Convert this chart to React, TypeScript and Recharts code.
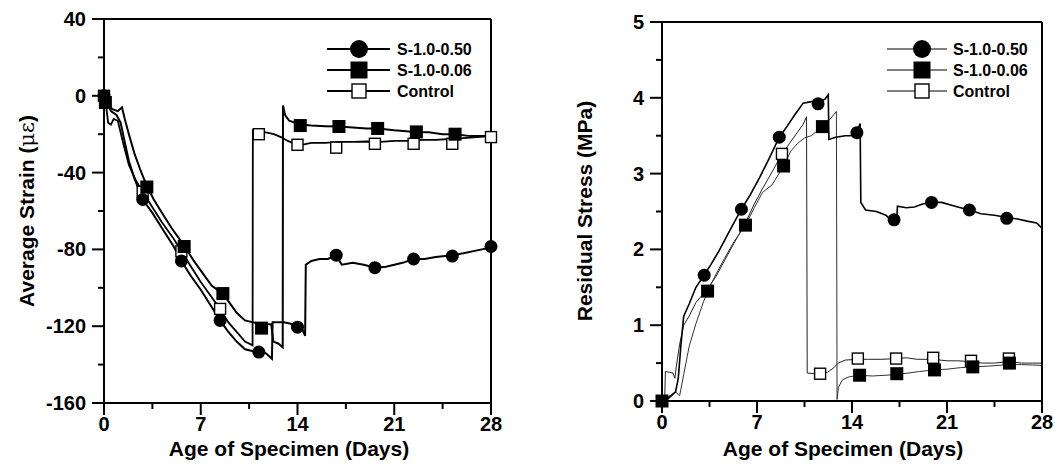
import React from 'react';
import { ComposedChart, Line, Scatter, XAxis, YAxis, Legend, Label } from 'recharts';

const FONT = 'Arial, "Liberation Sans", Helvetica, sans-serif';

// axis ticks
const dayTicks = [0, 3.5, 7, 10.5, 14, 17.5, 21, 24.5, 28];
const strainTicks = [-160, -140, -120, -100, -80, -60, -40, -20, 0, 20, 40];
const stressTicks = [0, 0.5, 1, 1.5, 2, 2.5, 3, 3.5, 4, 4.5, 5];

const seriesNames = ['S-1.0-0.50', 'S-1.0-0.06', 'Control'];

// ---- Average strain (με) vs. age [day, value] ----
const strainS050 = [
  [0, 0], [0.2, -3], [0.5, -8], [0.9, -10], [1.2, -14], [1.5, -24], [1.8, -34], [2.2, -43], [2.8, -54],
  [3.5, -61], [4.2, -69], [5, -78], [5.6, -86], [6.3, -94], [7, -101], [7.7, -109], [8.4, -117], [9, -123],
  [9.6, -128], [10.2, -132], [10.8, -133], [11.2, -133.5], [11.7, -134], [12.15, -137], [12.2, -118],
  [13, -118], [13.7, -119], [14.3, -121], [14.55, -125], [14.6, -88], [15, -86], [15.6, -85], [16.2, -85],
  [16.8, -83], [17.2, -88], [18, -87], [18.8, -88], [19.6, -89.5], [20.4, -89], [21, -88], [21.6, -87],
  [22.4, -85], [23.2, -85], [24, -84], [25.2, -83], [26, -82], [27, -80.5], [28, -79],
];
const strainS006 = [
  [0, -1], [0.3, -4], [0.6, -7], [1.0, -8], [1.3, -6], [1.5, -12], [1.8, -20], [2.2, -30], [2.6, -38],
  [3.1, -47], [3.6, -54], [4.2, -61], [4.9, -69], [5.8, -78], [6.5, -86], [7.2, -93], [7.8, -99],
  [8.6, -103], [9.1, -108], [9.6, -113], [10.2, -117], [10.8, -118], [11.4, -119], [12.1, -119],
  [12.25, -128], [12.6, -129], [12.93, -131], [12.95, -5], [13.1, -10], [13.4, -13], [13.8, -14],
  [14.2, -15], [15, -15.5], [16, -15.8], [17, -16], [18, -16.5], [19, -17], [19.8, -17], [21, -18],
  [22.5, -18.8], [23.5, -19], [24.5, -20], [25.4, -20], [26.5, -21], [28, -21],
];
const strainCtrl = [
  [0, 0], [0.15, -5], [0.3, -14], [0.5, -15], [0.7, -12], [1.0, -13], [1.4, -25], [1.8, -36], [2.3, -44],
  [2.8, -50], [3.5, -58], [4.2, -66], [5, -74], [5.6, -81], [6.3, -89], [7, -97], [7.7, -104], [8.4, -111],
  [9, -118], [9.6, -123], [10.2, -128], [10.75, -130], [10.77, -18], [11.1, -19], [11.7, -19], [12.3, -20],
  [12.8, -21.5], [13.3, -23.5], [13.8, -25], [14.3, -25.5], [15, -24.5], [16, -24.5], [17, -24], [18, -24],
  [19, -23.8], [20, -24], [21, -23.5], [22, -23.5], [23, -23], [24, -23], [25, -22.5], [26, -22],
  [27, -21.5], [28, -21],
];
const strainMarks050 = [
  [0, 0], [2.8, -54], [5.6, -86], [8.4, -117], [11.2, -133.5], [14.0, -120.5], [16.8, -83], [19.6, -89.5],
  [22.4, -85], [25.2, -83.5], [28, -78.5],
];
const strainMarks006 = [
  [0.1, -3.5], [3.1, -47.5], [5.8, -78.5], [8.6, -103], [11.4, -121], [14.2, -15.5], [17.0, -16],
  [19.8, -17], [22.6, -18.8], [25.4, -20],
];
const strainMarksCtrl = [
  [0, 0], [2.8, -50], [5.6, -81], [8.4, -111], [11.2, -20], [14.0, -25.5], [16.8, -27], [19.6, -25],
  [22.4, -25], [25.2, -25], [28, -21.5],
];

// ---- Residual stress (MPa) vs. age [day, value] ----
const stressS050 = [
  [0, 0], [0.5, 0.04], [1.0, 0.12], [1.2, 0.3], [1.4, 0.75], [1.6, 1.12], [2.0, 1.28], [2.5, 1.5],
  [3.1, 1.66], [3.6, 1.8], [4.2, 1.98], [5.0, 2.25], [5.85, 2.53], [6.5, 2.72], [7.2, 2.95], [7.9, 3.2],
  [8.64, 3.48], [9.2, 3.62], [9.8, 3.78], [10.4, 3.93], [11.0, 3.95], [11.5, 3.95], [12.0, 3.98],
  [12.25, 4.04], [12.3, 3.45], [12.8, 3.48], [13.5, 3.5], [14.0, 3.5], [14.36, 3.55], [14.6, 3.66],
  [14.65, 2.62], [15.0, 2.52], [15.8, 2.5], [16.5, 2.45], [16.9, 2.38], [17.3, 2.4], [17.35, 2.57],
  [18.0, 2.55], [18.6, 2.56], [19.2, 2.6], [19.86, 2.62], [20.6, 2.62], [21.4, 2.58], [22.0, 2.55],
  [22.65, 2.52], [23.5, 2.47], [24.5, 2.45], [25.4, 2.42], [26.2, 2.4], [27.0, 2.37], [27.6, 2.35], [28, 2.28],
];
const stressS006 = [
  [0, 0], [0.5, 0.06], [1.0, 0.12], [1.3, 0.07], [1.6, 0.35], [2.0, 0.72], [2.5, 1.02], [3.0, 1.28],
  [3.36, 1.45], [4.0, 1.68], [4.6, 1.88], [5.3, 2.1], [6.15, 2.32], [6.8, 2.55], [7.4, 2.75], [8.1, 2.85],
  [8.96, 3.1], [9.5, 3.3], [10.0, 3.4], [10.5, 3.47], [11.0, 3.5], [11.82, 3.62], [12.3, 3.7], [12.85, 3.82],
  [12.9, 0.02], [13.0, 0.18], [13.3, 0.28], [13.8, 0.32], [14.56, 0.34], [15.5, 0.33], [16.5, 0.34],
  [17.3, 0.35], [18.2, 0.37], [19.0, 0.39], [20.08, 0.41], [21.0, 0.42], [22.0, 0.44], [22.9, 0.45],
  [24.0, 0.46], [25.6, 0.48], [26.5, 0.48], [28, 0.47],
];
const stressCtrl = [
  [0, 0], [0.2, 0.04], [0.25, 0.39], [0.5, 0.38], [0.8, 0.37], [0.95, 0.3], [1.05, 0.45], [1.3, 0.75],
  [1.6, 1.0], [2.0, 1.12], [2.5, 1.3], [3.36, 1.48], [4.0, 1.65], [4.6, 1.85], [5.3, 2.08], [6.15, 2.35],
  [6.8, 2.6], [7.4, 2.8], [8.2, 3.05], [8.84, 3.26], [9.4, 3.4], [10.0, 3.55], [10.4, 3.65], [10.65, 3.75],
  [10.7, 0.37], [11.2, 0.36], [11.65, 0.36], [12.2, 0.38], [12.6, 0.43], [13.0, 0.5], [13.5, 0.54],
  [14.43, 0.55], [15.2, 0.55], [16.2, 0.55], [17.25, 0.56], [18.0, 0.57], [18.8, 0.55], [19.98, 0.55],
  [21.0, 0.53], [21.8, 0.53], [22.77, 0.52], [23.6, 0.5], [24.5, 0.5], [25.56, 0.52], [26.5, 0.5],
  [27.3, 0.5], [28, 0.5],
];
const stressMarks050 = [
  [3.11, 1.66], [5.85, 2.53], [8.64, 3.48], [11.5, 3.92], [14.36, 3.54], [17.1, 2.39], [19.86, 2.62],
  [22.65, 2.52], [25.4, 2.41],
];
const stressMarks006 = [
  [0, 0], [3.36, 1.45], [6.15, 2.32], [8.96, 3.1], [11.82, 3.62], [14.56, 0.34], [17.3, 0.36],
  [20.08, 0.41], [22.9, 0.45], [25.6, 0.5],
];
const stressMarksCtrl = [
  [8.84, 3.26], [11.65, 0.36], [14.43, 0.56], [17.25, 0.56], [19.98, 0.57], [22.77, 0.53], [25.56, 0.56],
];

const toRows = (pts: number[][]) => pts.map(([d, v]) => ({ d, v }));

type Kind = 'circle' | 'square' | 'open';

const drawMarker = (kind: Kind, cx: number, cy: number, big = false) => {
  if (kind === 'circle') return <circle cx={cx} cy={cy} r={big ? 9 : 6.5} fill="#000" />;
  if (kind === 'square') {
    const s = big ? 17 : 13;
    return <rect x={cx - s / 2} y={cy - s / 2} width={s} height={s} fill="#000" />;
  }
  const s = big ? 14 : 11;
  return <rect x={cx - s / 2} y={cy - s / 2} width={s} height={s} fill="#fff" stroke="#000" strokeWidth={1.4} />;
};

const markerShape = (kind: Kind) => (p: any) => drawMarker(kind, p.cx, p.cy);

type Side = 'bottom' | 'top' | 'left' | 'right';

const makeTick = (side: Side, isMajor: (v: number) => boolean, withLabel: boolean) => (props: any) => {
  const { x, y, payload } = props;
  const v = payload.value;
  const major = isMajor(v);
  const len = major ? 12 : 6;
  let ln;
  if (side === 'bottom') ln = <line x1={x} x2={x} y1={y} y2={y + len} />;
  else if (side === 'top') ln = <line x1={x} x2={x} y1={y} y2={y - len} />;
  else if (side === 'left') ln = <line x1={x} x2={x - len} y1={y} y2={y} />;
  else ln = <line x1={x} x2={x + len} y1={y} y2={y} />;
  let txt = null;
  if (withLabel && major) {
    const common = { fontFamily: FONT, fontWeight: 700, fontSize: 20, fill: '#000' };
    txt = side === 'bottom'
      ? <text x={x} y={y + 28} textAnchor="middle" {...common}>{v}</text>
      : <text x={x - 18} y={y} dy="0.35em" textAnchor="end" {...common}>{v}</text>;
  }
  return (
    <g>
      <g stroke="#000" strokeWidth={2}>{ln}</g>
      {txt}
    </g>
  );
};

const dayMajor = (v: number) => v % 7 === 0;

const LegendBox = ({ lineLen, markerX, textX, strokeWidth }: any) => (
  <svg width={175} height={66} style={{ overflow: 'visible', display: 'block' }}>
    {seriesNames.map((name, i) => {
      const y = 9 + i * 21;
      const kind: Kind = (['circle', 'square', 'open'] as Kind[])[i];
      return (
        <g key={name}>
          <line x1={0} x2={lineLen} y1={y} y2={y} stroke="#000" strokeWidth={strokeWidth} />
          {drawMarker(kind, markerX, y, true)}
          <text x={textX} y={y} dy="0.36em" fontFamily={FONT} fontWeight={700} fontSize={16} fill="#000">
            {name}
          </text>
        </g>
      );
    })}
  </svg>
);

const Panel = (cfg: any) => {
  const axisLine = { stroke: '#000', strokeWidth: 2 };
  return (
    <ComposedChart width={cfg.width} height={471} margin={cfg.margin}>
      <XAxis
        xAxisId="b" dataKey="d" type="number" domain={[0, 28]} ticks={dayTicks} interval={0}
        height={cfg.xHeight} tickSize={0} tickMargin={0} tickLine={false} axisLine={axisLine}
        tick={makeTick('bottom', dayMajor, true)}
      >
        <Label
          content={() => (
            <text x={cfg.xTitleX} y={cfg.xTitleY} textAnchor="middle" fontFamily={FONT} fontWeight={700} fontSize={21} fill="#000">
              Age of Specimen (Days)
            </text>
          )}
        />
      </XAxis>
      <XAxis
        xAxisId="t" orientation="top" type="number" domain={[0, 28]} ticks={dayTicks} interval={0}
        height={1} tickSize={0} tickMargin={0} tickLine={false} axisLine={axisLine}
        tick={makeTick('top', dayMajor, false)}
      />
      <YAxis
        yAxisId="l" dataKey="v" type="number" domain={cfg.yDomain} ticks={cfg.yTicks} interval={0}
        width={cfg.yWidth} tickSize={0} tickMargin={0} tickLine={false} axisLine={axisLine}
        tick={makeTick('left', cfg.yMajor, true)}
      >
        <Label
          content={() => (
            <text
              x={cfg.yTitleX} y={211} textAnchor="middle" dy="0.35em"
              transform={`rotate(-90 ${cfg.yTitleX} 211)`}
              fontFamily={FONT} fontWeight={700} fontSize={21} fill="#000"
            >
              {cfg.yTitle}
            </text>
          )}
        />
      </YAxis>
      <YAxis
        yAxisId="r" orientation="right" type="number" domain={cfg.yDomain} ticks={cfg.yTicks} interval={0}
        width={1} tickSize={0} tickMargin={0} tickLine={false} axisLine={axisLine}
        tick={makeTick('right', cfg.yMajor, false)}
      />
      {cfg.lines.map((l: any, i: number) => (
        <Line
          key={'l' + i} xAxisId="b" yAxisId="l" data={toRows(l.pts)} dataKey="v" type="linear"
          stroke={l.color} strokeWidth={l.width} dot={false} activeDot={false} isAnimationActive={false}
        />
      ))}
      {cfg.marks.map((m: any, i: number) => (
        <Scatter
          key={'m' + i} xAxisId="b" yAxisId="l" data={toRows(m.pts)} dataKey="v"
          shape={markerShape(m.kind)} isAnimationActive={false}
        />
      ))}
      <Legend
        layout="vertical" align="center" verticalAlign="middle"
        wrapperStyle={{ left: cfg.legendLeft, top: 40, width: 175, height: 66 }}
        content={() => <LegendBox {...cfg.legend} />}
      />
    </ComposedChart>
  );
};

export default function App() {
  return (
    <div style={{ position: 'absolute', left: 0, top: 0, width: 1055, height: 471, background: '#fff' }}>
      <div style={{ position: 'absolute', left: 0, top: 0 }}>
        <Panel
          width={520}
          margin={{ top: 18, right: 28, bottom: 0, left: 0 }}
          xHeight={68}
          yWidth={104}
          yDomain={[-160, 40]}
          yTicks={strainTicks}
          yMajor={(v: number) => v % 40 === 0}
          xTitleX={289}
          xTitleY={456}
          yTitleX={27}
          yTitle={<>Average Strain (<tspan fontWeight={400} fontFamily="DejaVu Serif, serif">με</tspan>)</>}
          lines={[
            { pts: strainS050, color: '#000', width: 2 },
            { pts: strainS006, color: '#000', width: 2 },
            { pts: strainCtrl, color: '#000', width: 1.8 },
          ]}
          marks={[
            { pts: strainMarksCtrl, kind: 'open' },
            { pts: strainMarks050, kind: 'circle' },
            { pts: strainMarks006, kind: 'square' },
          ]}
          legendLeft={327}
          legend={{ lineLen: 63, markerX: 32, textX: 70, strokeWidth: 2 }}
        />
      </div>
      <div style={{ position: 'absolute', left: 530, top: 0 }}>
        <Panel
          width={525}
          margin={{ top: 21, right: 12, bottom: 0, left: 0 }}
          xHeight={70}
          yWidth={132}
          yDomain={[0, 5]}
          yTicks={stressTicks}
          yMajor={(v: number) => Number.isInteger(v)}
          xTitleX={313}
          xTitleY={456}
          yTitleX={55}
          yTitle="Residual Stress (MPa)"
          lines={[
            { pts: stressCtrl, color: '#222', width: 1 },
            { pts: stressS006, color: '#333', width: 1 },
            { pts: stressS050, color: '#000', width: 1.6 },
          ]}
          marks={[
            { pts: stressMarksCtrl, kind: 'open' },
            { pts: stressMarks050, kind: 'circle' },
            { pts: stressMarks006, kind: 'square' },
          ]}
          legendLeft={357}
          legend={{ lineLen: 60, markerX: 35, textX: 66, strokeWidth: 1 }}
        />
      </div>
    </div>
  );
}
